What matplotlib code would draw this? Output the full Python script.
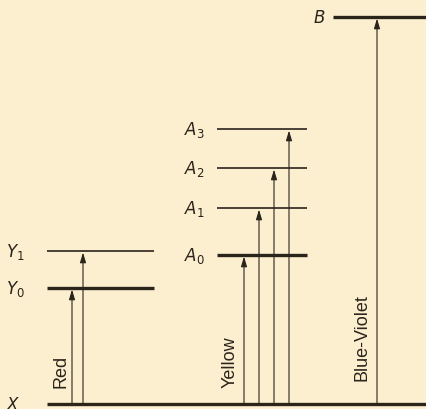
import matplotlib.pyplot as plt

# energy levels (arbitrary units, ground state X = 0)
level_names = ['X', 'Y_0', 'Y_1', 'A_0', 'A_1', 'A_2', 'A_3', 'B']
level_energy = [0, 116, 153, 149, 196, 236, 275, 387]
level_thick = [True, True, False, True, False, False, False, True]
level_x0 = [47, 47, 47, 217, 217, 217, 217, 333]
level_x1 = [427, 154, 154, 307, 307, 307, 307, 427]
label_gap = [27, 22, 22, 12, 12, 12, 12, 8]

# transitions out of X: (x position, target level)
trans_x = [72, 83, 244, 259, 274, 289, 377]
trans_to = ['Y_0', 'Y_1', 'A_0', 'A_1', 'A_2', 'A_3', 'B']

band_names = ['Red', 'Yellow', 'Blue-Violet']
band_x = [61, 230, 362]
band_y = [34, 43, 67]

ink = '#2b241b'
bg = '#fcefd0'

fig = plt.figure(figsize=(4.27, 4.10), dpi=100, facecolor=bg)
ax = fig.add_axes([0, 0, 1, 1])
ax.set_facecolor(bg)
ax.set_xlim(0, 427)
ax.set_ylim(-5, 405)
ax.axis('off')

E = dict(zip(level_names, level_energy))
for name, e, thick, x0, x1, gap in zip(level_names, level_energy, level_thick,
                                       level_x0, level_x1, label_gap):
    ax.plot([x0, x1], [e, e], color=ink, lw=2.4 if thick else 1.2, solid_capstyle='butt')
    if '_' in name:
        lbl = '$\\mathit{' + name.replace('_', '}_{') + '}$'
    else:
        lbl = '$\\mathit{' + name + '}$'
    ax.text(x0 - gap, e, lbl, ha='right', va='center', fontsize=12, color=ink)

for x, t in zip(trans_x, trans_to):
    ax.annotate('', xy=(x, E[t] - 1.5), xytext=(x, 0),
                arrowprops=dict(arrowstyle='-|>,head_length=0.6,head_width=0.18',
                                color=ink, lw=0.8, shrinkA=0, shrinkB=0))

for name, x, y in zip(band_names, band_x, band_y):
    ax.text(x, y, name, rotation=90, ha='center', va='center', fontsize=13, color=ink,
            family='Liberation Sans')

fig.savefig('out.png', dpi=100, facecolor=bg)
